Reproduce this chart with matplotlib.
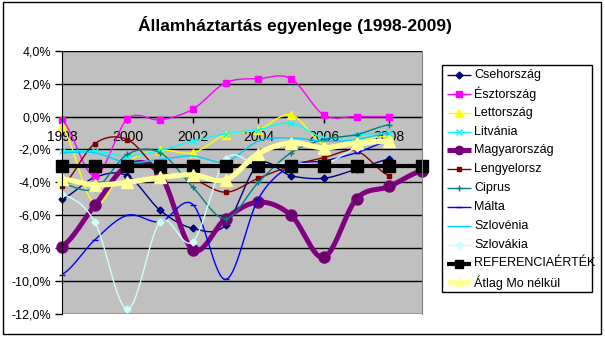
import numpy as np
import matplotlib.pyplot as plt
from matplotlib.lines import Line2D
from matplotlib.patches import Rectangle

years = list(range(1998, 2010))

# general government balance, % of GDP
cseh = [-5.0, -3.7, -3.6, -5.7, -6.8, -6.6, -2.9, -3.6, -3.75, -3.2, -2.6]
eszt = [-0.2, -3.6, -0.15, -0.2, 0.45, 2.05, 2.3, 2.3, 0.1, 0.0, 0.0]
lett = [-0.6, -5.3, -2.8, -2.05, -2.2, -1.1, -0.8, 0.1, -1.7, -1.4, -1.2]
litv = [-2.1, -2.1, -2.4, -2.05, -1.5, -1.05, -0.8, -0.4, -1.3, -1.1, -1.0]
magy = [-7.9, -5.4, -3.0, -3.5, -8.1, -6.2, -5.2, -6.0, -8.55, -5.0, -4.25, -3.3]
leng = [-4.2, -1.65, -1.4, -3.3, -3.8, -4.6, -3.75, -3.0, -2.5, -2.1, -3.6]
cipr = [-4.1, -4.4, -2.3, -2.2, -4.3, -6.2, -4.0, -2.2, -1.4, -1.1, -0.5]
malt = [-9.6, -7.5, -6.0, -6.4, -5.35, -9.9, -5.0, -3.0, -2.7, -2.2, -1.5]
szlovenia = [-2.2, -2.2, -2.8, -2.6, -2.4, -2.75, -1.5, -1.3, -1.5, -1.4, -1.0]
szlovakia = [-4.7, -6.4, -11.7, -6.4, -7.6, -2.6, -3.0, -2.8, -2.9, -1.9, -1.5]
referencia = [-3.0] * 12
atlag = [-3.8, -4.15, -4.0, -3.7, -3.55, -3.85, -2.25, -1.6, -1.9, -1.6, -1.5]

labels = ["Csehország", "Észtország", "Lettország", "Litvánia", "Magyarország",
          "Lengyelorsz", "Ciprus", "Málta", "Szlovénia", "Szlovákia",
          "REFERENCIAÉRTÉK", "Átlag Mo nélkül"]
values = [cseh, eszt, lett, litv, magy, leng, cipr, malt, szlovenia, szlovakia,
          referencia, atlag]

# colour, line width, marker, marker size, marker face
styles = [
    ("#000080", 1.0, "D", 3.5, "#000080"),
    ("#FF00FF", 1.0, "s", 5.0, "#FF00FF"),
    ("#FFFF00", 1.0, "^", 5.5, "#FFFF00"),
    ("#00FFFF", 1.0, "x", 4.0, "#00FFFF"),
    ("#800080", 3.6, "o", 8.0, "#6A006A"),
    ("#800000", 1.0, "s", 3.5, "#800000"),
    ("#008080", 1.0, "+", 5.0, "#008080"),
    ("#0000FF", 1.0, "_", 5.0, "#0000FF"),
    ("#00CCFF", 1.0, None, 0, None),
    ("#CCFFFF", 1.0, "D", 3.5, "#CCFFFF"),
    ("#000000", 3.0, "s", 8.5, "#000000"),
    ("#FFFF99", 3.8, "^", 9.0, "#FFFF99"),
]


def smooth(y, n=24):
    """Cubic Hermite curve through the points, like a smoothed line chart."""
    y = np.asarray(y, float)
    yp = np.r_[y[0], y, y[-1]]
    m = (yp[2:] - yp[:-2]) / 2
    xs, ys = [], []
    t = np.linspace(0, 1, n, endpoint=False)
    for i in range(len(y) - 1):
        h00 = 2 * t**3 - 3 * t**2 + 1
        h10 = t**3 - 2 * t**2 + t
        h01 = -2 * t**3 + 3 * t**2
        h11 = t**3 - t**2
        xs.append(i + t)
        ys.append(h00 * y[i] + h10 * m[i] + h01 * y[i + 1] + h11 * m[i + 1])
    xs.append([len(y) - 1])
    ys.append([y[-1]])
    return np.concatenate(xs), np.concatenate(ys)


W, H = 605, 337


def fx(px):
    return px / W


def fy(py):
    return 1 - py / H


plt.rcParams["font.family"] = ["Liberation Sans", "DejaVu Sans"]
fig = plt.figure(figsize=(W / 100, H / 100), dpi=100)
fig.patch.set_facecolor("white")

ax = fig.add_axes([fx(62), fy(314), (422 - 62) / W, (314 - 50.7) / H])
ax.set_facecolor("#C0C0C0")
ax.set_xlim(0, 11)
ax.set_ylim(-12, 4)

for vals, (col, lw, mk, ms, mfc) in zip(values, styles):
    x = np.arange(len(vals))
    sx, sy = smooth(vals)
    ax.plot(sx, sy, color=col, lw=lw, solid_capstyle="butt", clip_on=False)
    if mk:
        ax.plot(x, vals, ls="none", marker=mk, ms=ms, mfc=mfc, mec=col,
                mew=1.0, clip_on=False)

# axes and gridlines
yt = np.arange(-12, 4.1, 2)
ax.set_yticks(yt)
ax.set_yticklabels([f"{v:.1f}%".replace(".", ",") for v in yt], fontsize=9)
ax.yaxis.grid(True, color="black", lw=1)
ax.set_axisbelow(True)
ax.tick_params(axis="y", direction="out", length=5, width=1, pad=3)

ax.set_xticks(range(0, 11, 2))
ax.set_xticklabels([str(y) for y in years[0:11:2]], fontsize=9)
ax.tick_params(axis="x", direction="out", length=4, width=1, pad=6)

ax.spines["bottom"].set_position(("data", 0))
ax.spines["bottom"].set_color("black")
ax.spines["left"].set_color("black")
ax.spines["top"].set_visible(False)
ax.spines["right"].set_color("#808080")
ax.spines["bottom"].set_zorder(0.5)

fig.text(fx(295), fy(25), "Államháztartás egyenlege (1998-2009)",
         ha="center", va="center", fontsize=12.5, fontweight="bold")

# legend box
fig.add_artist(Rectangle((fx(442), fy(292)), (592 - 442) / W, (292 - 65) / H,
                         transform=fig.transFigure, fc="white", ec="black", lw=1))
for i, (lab, (col, lw, mk, ms, mfc)) in enumerate(zip(labels, styles)):
    yy = fy(75 + i * 18.85)
    fig.add_artist(Line2D([fx(447), fx(471)], [yy, yy], color=col, lw=lw,
                          transform=fig.transFigure, solid_capstyle="butt"))
    if mk:
        fig.add_artist(Line2D([fx(459)], [yy], ls="none", marker=mk,
                              ms=min(ms, 6), mfc=mfc, mec=col, mew=1.0,
                              transform=fig.transFigure))
    fig.text(fx(474), yy, lab, ha="left", va="center", fontsize=9)

# outer frame
fig.add_artist(Rectangle((fx(2.5), fy(334)), (601 - 2.5) / W, (334 - 1.5) / H,
                         transform=fig.transFigure, fill=False, ec="black", lw=1))

fig.savefig("out.png", dpi=100)
